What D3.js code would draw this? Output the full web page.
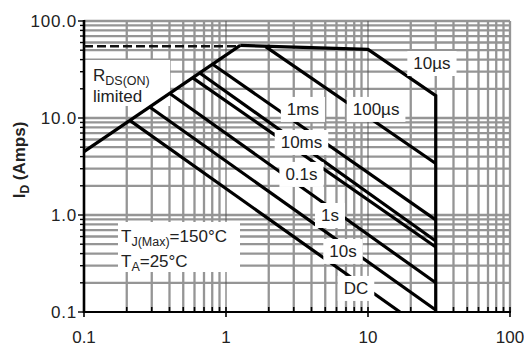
<!DOCTYPE html>
<html><head><meta charset="utf-8">
<script src="https://cdnjs.cloudflare.com/ajax/libs/d3/7.8.5/d3.min.js"></script>
<style>
body{margin:0;background:#fff}
svg{display:block}
text{font-family:"Liberation Sans",Arial,sans-serif;fill:#222}
</style>
</head><body>
<svg id="c" width="524" height="350"></svg>
<script>
// ---- data ----
const xTickValues=[0.1,1,10,100];
const xTickLabels=["0.1","1","10","100"];
const yTickValues=[0.1,1,10,100];
const yTickLabels=["0.1","1.0","10.0","100.0"];
const currentLimit=[[0.1,55],[1.22,55]];            // dashed line
const rdsLimit=[[0.1,4.5],[1.26,56]];
const pulse10us=[[1.26,56],[10,51],[30,17],[30,0.1]];
const pulse100us=[[1.9,54.5],[30,3.4]];
const pulse1ms=[[0.8,36],[30,0.89]];
const pulse10ms=[[0.65,29.3],[30,0.54]];
const pulse100ms=[[0.58,26.1],[30,0.468]];
const pulse1s=[[0.40,18],[30,0.2]];
const pulse10s=[[0.29,13],[30,0.105]];
const pulseDC=[[0.21,9.45],[16.8,0.1]];
const curveNames=["10µs","100µs","1ms","10ms","0.1s","1s","10s","DC"];
const curveLabelV=[28.2,11.4,3.48,3.4,3.4,5.4,6.67,8.23];
const curveLabelI=[36.9,12.4,12.4,5.66,2.65,1.0,0.426,0.177];

// ---- chart ----
const svg=d3.select("#c");
const x=d3.scaleLog().domain([0.1,100]).range([84,510]);
const y=d3.scaleLog().domain([0.1,100]).range([312,21]);
const isDecade=v=>Math.abs(Math.log10(v)-Math.round(Math.log10(v)))<1e-6;

// grid
const g=svg.append("g");
const xt=x.ticks(), yt=y.ticks();
g.selectAll("line.gv").data(xt.filter(v=>v>0.1 && (!isDecade(v)||v===100))).join("line")
 .attr("x1",d=>x(d)).attr("x2",d=>x(d)).attr("y1",y(100)).attr("y2",y(0.1))
 .attr("stroke","#959595").attr("stroke-width",2.3);
g.selectAll("line.gh").data(yt.filter(v=>v>0.1)).join("line")
 .attr("y1",d=>y(d)).attr("y2",d=>y(d)).attr("x1",x(0.1)).attr("x2",x(100))
 .attr("stroke","#959595").attr("stroke-width",2.3);
g.selectAll("line.gd").data(xt.filter(v=>v>0.1 && v<100 && isDecade(v))).join("line")
 .attr("x1",d=>x(d)).attr("x2",d=>x(d)).attr("y1",y(100)).attr("y2",y(0.1))
 .attr("stroke","#555").attr("stroke-width",1);

// annotation boxes (under curves)
svg.append("rect").attr("x",85).attr("y",60).attr("width",85).attr("height",46).attr("fill","#fff");
svg.append("rect").attr("x",118).attr("y",222).attr("width",122).attr("height",50).attr("fill","#fff");

// axes
const ax=svg.append("g");
ax.append("line").attr("x1",x(0.1)).attr("x2",x(0.1)).attr("y1",y(100)-1).attr("y2",y(0.1)+1)
 .attr("stroke","#000").attr("stroke-width",2.6);
ax.append("line").attr("x1",x(0.1)).attr("x2",x(100)+1).attr("y1",y(0.1)).attr("y2",y(0.1))
 .attr("stroke","#000").attr("stroke-width",2.2);
ax.selectAll("line.yt").data(yt).join("line")
 .attr("x1",d=>x(0.1)-(isDecade(d)?6:4)).attr("x2",x(0.1)).attr("y1",d=>y(d)).attr("y2",d=>y(d))
 .attr("stroke","#000").attr("stroke-width",1.4);
ax.selectAll("line.xt").data(xt).join("line")
 .attr("x1",d=>x(d)).attr("x2",d=>x(d)).attr("y1",d=>y(0.1)+(isDecade(d)?5:0)).attr("y2",y(0.1)-5)
 .attr("stroke","#000").attr("stroke-width",1.6);
ax.selectAll("text.xl").data(xTickValues).join("text")
 .attr("x",d=>x(d)).attr("y",y(0.1)+31).attr("text-anchor","middle").attr("font-size",17)
 .text((d,i)=>xTickLabels[i]);
ax.selectAll("text.yl").data(yTickValues).join("text")
 .attr("x",x(0.1)-7).attr("y",d=>y(d)+6).attr("text-anchor","end").attr("font-size",17)
 .attr("letter-spacing",0.8)
 .text((d,i)=>yTickLabels[i]);

// y title
const yt1=svg.append("text").attr("transform","translate(25,160) rotate(-90)")
 .attr("text-anchor","middle").attr("font-size",17).attr("font-weight","bold");
yt1.append("tspan").text("I");
yt1.append("tspan").attr("font-size",12).attr("dy",4).text("D");
yt1.append("tspan").attr("dy",-4).text(" (Amps)");

// curves
const line=d3.line().x(d=>x(d[0])).y(d=>y(d[1]));
const cg=svg.append("g").attr("fill","none").attr("stroke","#000").attr("stroke-width",3.2)
 .attr("stroke-linejoin","miter");
cg.append("path").attr("d",line(currentLimit)).attr("stroke","#111").attr("stroke-dasharray","9,4").attr("stroke-width",2.6);
[rdsLimit,pulse10us,pulse100us,pulse1ms,pulse10ms,pulse100ms,pulse1s,pulse10s,pulseDC]
 .forEach(p=>cg.append("path").attr("d",line(p)));

// curve labels with white boxes
curveNames.forEach((n,i)=>{
  const cx=x(curveLabelV[i]), cy=y(curveLabelI[i]);
  const lg=svg.append("g");
  const t=lg.append("text").attr("x",cx).attr("y",cy+6).attr("text-anchor","middle")
    .attr("font-size",17).text(n);
  const b=t.node().getBBox();
  lg.insert("rect","text").attr("x",b.x-6).attr("y",b.y-3)
    .attr("width",b.width+12).attr("height",b.height+6).attr("fill","#fff");
});

// annotations text
const r=svg.append("text").attr("x",93).attr("y",81).attr("font-size",17);
r.append("tspan").text("R");
r.append("tspan").attr("font-size",12.5).attr("dy",4).text("DS(ON)");
svg.append("text").attr("x",93).attr("y",102).attr("font-size",17).text("limited");
const t1=svg.append("text").attr("x",121).attr("y",242).attr("font-size",17);
t1.append("tspan").text("T");
t1.append("tspan").attr("font-size",12.5).attr("dy",4).text("J(Max)");
t1.append("tspan").attr("dy",-4).text("=150°C");
const t2=svg.append("text").attr("x",121).attr("y",267).attr("font-size",17);
t2.append("tspan").text("T");
t2.append("tspan").attr("font-size",12.5).attr("dy",4).text("A");
t2.append("tspan").attr("dy",-4).text("=25°C");
</script>
</body></html>
